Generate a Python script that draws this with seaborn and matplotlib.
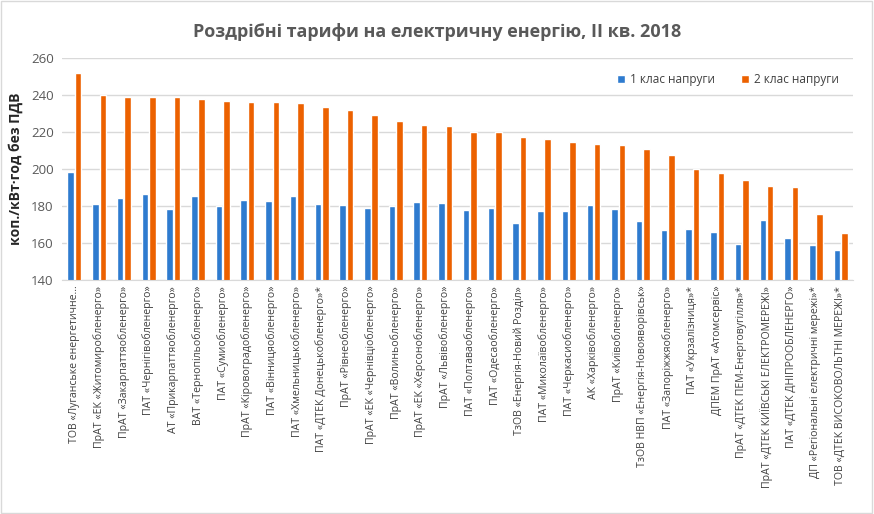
import pandas as pd
import matplotlib.pyplot as plt
import seaborn as sns
from matplotlib.patches import Rectangle

companies = [
    "ТОВ «Луганське енергетичне...",
    "ПрАТ «ЕК «Житомиробленерго»",
    "ПрАТ «Закарпаттяобленерго»",
    "ПАТ «Чернігівобленерго»",
    "АТ «Прикарпаттяобленерго»",
    "ВАТ «Тернопільобленерго»",
    "ПАТ «Сумиобленерго»",
    "ПрАТ «Кіровоградобленерго»",
    "ПАТ «Вінницяобленерго»",
    "ПАТ «Хмельницькобленерго»",
    "ПАТ «ДТЕК Донецькобленерго»*",
    "ПрАТ «Рівнеобленерго»",
    "ПрАТ «ЕК «Чернівціобленерго»",
    "ПрАТ «Волиньобленерго»",
    "ПрАТ «ЕК «Херсонобленерго»",
    "ПрАТ «Львівобленерго»",
    "ПАТ «Полтаваобленерго»",
    "ПАТ «Одесаобленерго»",
    "ТзОВ «Енергія-Новий Розділ»",
    "ПАТ «Миколаївобленерго»",
    "ПАТ «Черкасиобленерго»",
    "АК «Харківобленерго»",
    "ПрАТ «Київобленерго»",
    "ТзОВ НВП «Енергія-Новояворівськ»",
    "ПАТ «Запоріжжяобленерго»",
    "ПАТ «Укрзалізниця»*",
    "ДПЕМ ПрАТ «Атомсервіс»",
    "ПрАТ «ДТЕК ПЕМ-Енерговугілля»*",
    "ПрАТ «ДТЕК КИЇВСЬКІ ЕЛЕКТРОМЕРЕЖІ»",
    "ПАТ «ДТЕК ДНІПРООБЛЕНЕРГО»",
    "ДП «Регіональні електричні мережі»*",
    "ТОВ «ДТЕК ВИСОКОВОЛЬТНІ МЕРЕЖІ»*",
]

class1 = [198.7, 181.4, 184.5, 186.8, 178.2, 185.4, 180.3, 183.2, 182.9, 185.7,
          181.1, 180.7, 179.2, 180.0, 182.3, 181.8, 178.0, 179.2, 170.8, 177.3,
          177.5, 180.4, 178.3, 171.9, 167.2, 167.6, 166.0, 159.5, 172.6, 162.9,
          159.2, 156.4]
class2 = [251.9, 239.8, 239.0, 239.0, 239.0, 238.0, 237.0, 236.2, 236.1, 235.8,
          233.5, 231.9, 229.2, 226.1, 224.1, 223.4, 220.3, 220.0, 217.3, 216.4,
          214.6, 213.6, 213.0, 210.8, 207.4, 199.8, 197.8, 194.1, 190.8, 190.4,
          175.8, 165.6]

series_names = ["1 клас напруги", "2 клас напруги"]
colors = ["#2E7BCF", "#EC6100"]

df = pd.DataFrame({
    "company": companies * 2,
    "value": class1 + class2,
    "series": [series_names[0]] * len(companies) + [series_names[1]] * len(companies),
})

sns.set_style("white")
plt.rcParams["font.family"] = ["Open Sans", "DejaVu Sans"]

fig = plt.figure(figsize=(8.74, 5.14), dpi=100)
ax = fig.add_axes([0.071, 0.455, 0.905, 0.432])

sns.barplot(data=df, x="company", y="value", hue="series", palette=colors,
            width=0.6, gap=0.12, ax=ax, saturation=1)

ax.set_ylim(140, 260)
ax.set_yticks(range(140, 261, 20))
ax.set_xlim(-0.5, len(companies) - 0.5)
ax.grid(axis="y", color="#D9D9D9", linewidth=1)
ax.set_axisbelow(True)
for side in ["top", "right", "left"]:
    ax.spines[side].set_visible(False)
ax.spines["bottom"].set_color("#D9D9D9")

ax.tick_params(axis="y", labelsize=9.5, labelcolor="#595959", length=0, pad=6)
ax.tick_params(axis="x", labelsize=7.6, labelcolor="#404040", length=0, pad=4)
plt.setp(ax.get_xticklabels(), rotation=90)

ax.set_xlabel("")
ax.set_ylabel("коп./кВт·год без ПДВ", fontsize=10, fontweight="bold", color="#262626", labelpad=6)

fig.suptitle("Роздрібні тарифи на електричну енергію, II кв. 2018", x=0.5, y=0.955,
             fontsize=13, fontweight="bold", color="#595959")

ax.legend(loc="upper right", bbox_to_anchor=(0.995, 0.98), ncol=2, frameon=False,
          fontsize=8.5, handlelength=0.7, handleheight=0.7, columnspacing=2.2,
          handletextpad=0.4, labelcolor="#404040")

fig.patches.append(Rectangle((0.001, 0.001), 0.997, 0.997, transform=fig.transFigure,
                             fill=False, edgecolor="#D9D9D9", linewidth=1))

plt.savefig("out.png", dpi=100)
plt.close()
